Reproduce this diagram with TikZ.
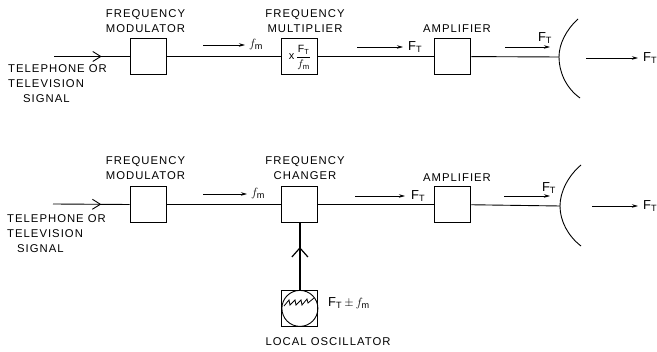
\documentclass[tikz,border=0pt]{standalone}
\usepackage{fontspec}
\setmainfont[LetterSpace=9]{Liberation Sans}
\usepackage{tikz}
\usetikzlibrary{positioning, arrows.meta, decorations.markings}
\newcommand{\FT}{F\textsubscript{T}}
\newcommand{\fm}{$f_{\mathrm{m}}$}
\tikzset{
    boxnode/.style  = {draw, minimum size=36pt, inner sep=0pt, line width=0.9pt},
    lblnode/.style  = {align=center, font=\fontsize{11.3}{15}\selectfont, inner sep=0pt},
    frqnode/.style  = {lblnode, font=\fontsize{13}{15}\selectfont},
    sigline/.style  = {line width=0.9pt},
    freqarrow/.style = {-{Stealth[length=6pt,width=3.5pt]}, line width=0.8pt},
    inarrow/.style  = {line width=0.9pt, postaction={decorate}, decoration={markings,
                       mark=at position 0.63 with {\arrow[line width=0.9pt]{Straight Barb[length=8pt,width=10pt]}}}},
    oscarrow/.style = {line width=1.2pt, postaction={decorate}, decoration={markings,
                       mark=at position 0.64 with {\arrow[line width=1.2pt]{Straight Barb[length=9pt,width=16pt]}}}},
}
\begin{document}
\begin{tikzpicture}[x=1pt, y=-1pt]
\useasboundingbox (0,0) rectangle (657,352);

% upper chain
\node[boxnode] (mod1) at (148,56.5) {};
\node[boxnode, right=115pt of mod1] (mult1)
    {\fontsize{11}{11}\selectfont x\,$\displaystyle\frac{\mbox{\fontsize{10.5}{10.5}\selectfont\rule{0pt}{9pt}\FT}}{\mbox{\fontsize{11}{11}\selectfont\rule{0pt}{9pt}\fm}}$};
\node[boxnode, right=116pt of mult1] (amp1) {};
\coordinate (dish1) at (559,57);
\coordinate (in1) at (54,56.5);

\node[lblnode] at (145.5,21.5) {FREQUENCY\\MODULATOR};
\node[lblnode] at (305,21.5) {FREQUENCY\\MULTIPLIER};
\node[lblnode] at (457,29) {AMPLIFIER};
\node[lblnode, align=left, anchor=north west] at (8,64) {TELEPHONE OR\\TELEVISION\\\hspace*{15pt}SIGNAL};

\draw[inarrow] (in1) -- (mod1.west);
\draw[sigline] (mod1) -- (mult1);
\draw[sigline] (mult1) -- (amp1);
\draw[sigline] (amp1) -- (dish1);
\draw[line width=0.9pt] (578,19) .. controls (566,30) and (559,44) .. (dish1)
    .. controls (559,72) and (566,88) .. (580,98);

\coordinate (a1) at (203,45);
\coordinate (a2) at (245,45);
\coordinate (a3) at (357,47);
\coordinate (a4) at (403,47);
\coordinate (a5) at (505,47);
\coordinate (a6) at (550,47);
\coordinate (a7) at (586,58);
\coordinate (a8) at (638,58);
\draw[freqarrow] (a1) -- (a2);
\draw[freqarrow] (a3) -- (a4);
\draw[freqarrow] (a5) -- (a6);
\draw[freqarrow] (a7) -- (a8);
\node[frqnode, right=4pt of a2] {\fm};
\node[frqnode, right=5pt of a4] {\FT};
\node[frqnode] at (545,38) {\FT};
\node[frqnode, right=5pt of a8] {\FT};

% lower chain
\node[boxnode] (mod2) at (148,204.5) {};
\node[boxnode, right=115pt of mod2] (chg2) {};
\node[boxnode, right=116pt of chg2] (amp2) {};
\node[boxnode, below=67pt of chg2] (osc2) {};
\node[draw, circle, line width=0.9pt, minimum size=36pt, inner sep=0pt] (circ2) at (osc2) {};
\coordinate (dish2) at (560,206);
\coordinate (in2) at (53,204);

\node[lblnode] at (145.5,168.5) {FREQUENCY\\MODULATOR};
\node[lblnode] at (305,168.5) {FREQUENCY\\CHANGER};
\node[lblnode] at (457,178) {AMPLIFIER};
\node[lblnode, align=left, anchor=north west] at (7,214) {TELEPHONE OR\\TELEVISION\\\hspace*{10pt}SIGNAL};
\node[lblnode] at (328,342) {LOCAL OSCILLATOR};

\draw[inarrow] (in2) -- (mod2.west);
\draw[sigline] (mod2) -- (chg2);
\draw[sigline] (chg2) -- (amp2);
\draw[sigline] (amp2) -- (dish2);
\draw[line width=0.9pt] (581,165) .. controls (568,176) and (560,192) .. (dish2)
    .. controls (560,221) and (568,236) .. (581,246);
\draw[oscarrow] (circ2.north) -- (chg2.south);
\draw[line width=0.8pt] (284,306) -- (289,300) -- (290,305) -- (295,300) -- (296,305) -- (301,300)
    -- (302,305) -- (307,299) -- (308,303) -- (314,298);

\coordinate (b1) at (203,194);
\coordinate (b2) at (247,194);
\coordinate (b3) at (355,196);
\coordinate (b4) at (405,196);
\coordinate (b5) at (504,196);
\coordinate (b6) at (550,196);
\coordinate (b7) at (592,206);
\coordinate (b8) at (638,206);
\draw[freqarrow] (b1) -- (b2);
\draw[freqarrow] (b3) -- (b4);
\draw[freqarrow] (b5) -- (b6);
\draw[freqarrow] (b7) -- (b8);
\node[frqnode, right=4pt of b2] {\fm};
\node[frqnode, right=6pt of b4] {\FT};
\node[frqnode] at (549,188) {\FT};
\node[frqnode, right=5pt of b8] {\FT};
\node[frqnode, anchor=west] at (328,303) {\FT\,$\pm$\,\fm};

\end{tikzpicture}
\end{document}
